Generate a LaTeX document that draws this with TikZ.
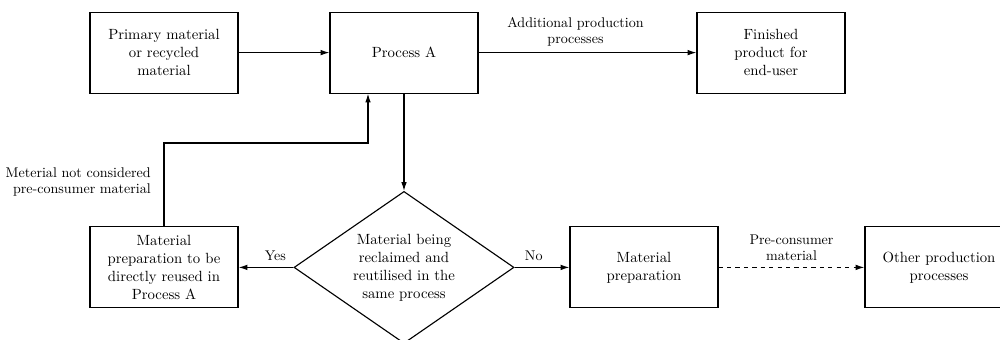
\documentclass[tikz,border=0pt]{standalone}
\usepackage{tikz}
\usetikzlibrary{arrows.meta, shapes.geometric}

\begin{document}
\begin{tikzpicture}[line width=0.8pt,
        font=\fontsize{10.5}{12.8}\selectfont,
        box/.style={draw, rectangle, align=center, minimum width=3.7cm, minimum height=2.025cm, inner sep=2pt},
        decision/.style={draw, diamond, aspect=1.45, align=center, minimum width=5.5cm, minimum height=3.8cm, inner sep=0pt},
        flow/.style={-{Latex[length=2.2mm, width=1.4mm]}},
        lbl/.style={font=\fontsize{10}{11.5}\selectfont, align=center}]
        \useasboundingbox (0,0) rectangle (25,8.475);

        % 上排
        \node[box] (primary) at (4.1,7.16) {Primary material\\or recycled\\material};
        \node[box] (procA) at (10.1,7.16) {Process A};
        \node[box] (finished) at (19.275,7.16) {Finished\\product for\\end-user};

        % 下排
        \node[box] (reuse) at (4.1,1.79) {Material\\preparation to be\\directly reused in\\Process A};
        \node[decision] (reclaim) at (10.1,1.79) {Material being\\reclaimed and\\reutilised in the\\same process};
        \node[box] (prep) at (16.1,1.79) {Material\\preparation};
        \node[box] (other) at (23.475,1.79) {Other production\\processes};

        % 连线
        \draw[flow] (primary) -- (procA);
        \draw[flow] (procA) -- (finished) node[lbl, midway, above=1pt, xshift=-3mm] {Additional production\\processes};
        \draw[flow] (procA.south) -- (reclaim.north);
        \draw[flow] (reclaim.west) -- (reuse.east) node[lbl, pos=0.33, above=1pt] {Yes};
        \draw[flow] (reclaim.east) -- (prep.west) node[lbl, pos=0.35, above=1pt] {No};
        \draw[flow, dashed] (prep) -- (other) node[lbl, midway, above=1pt] {Pre-consumer\\material};

        % 回流
        \coordinate (back) at ([xshift=-0.9cm]procA.south);
        \draw[flow] (reuse.north) |- (4.1,4.9) -| (back);
        \node[lbl, anchor=east, align=right] (notpre) at (3.9,3.925) {Meterial not considered\\pre-consumer material};
    \end{tikzpicture}
\end{document}
